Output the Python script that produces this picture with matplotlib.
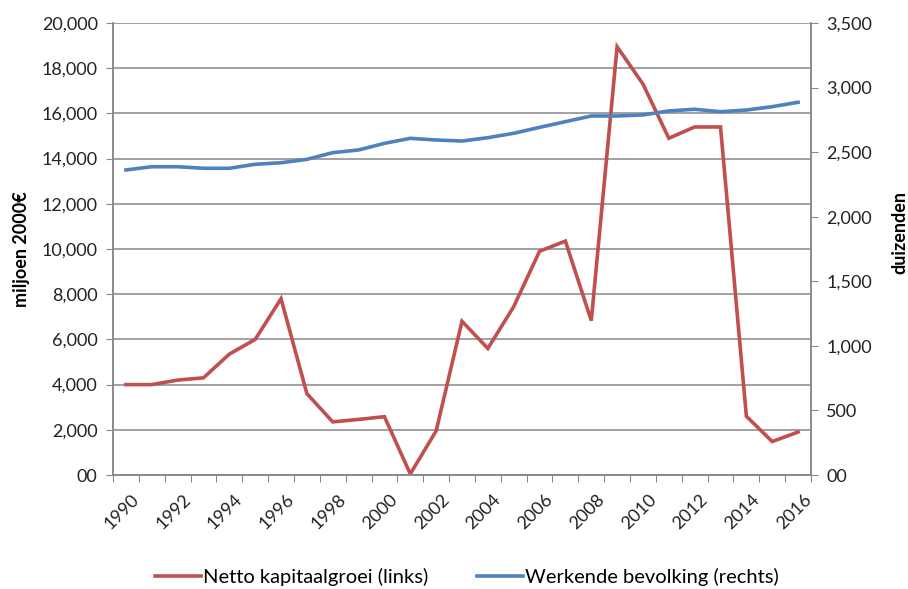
import matplotlib
matplotlib.use("Agg")
import matplotlib.pyplot as plt
import matplotlib.transforms as mtransforms
from matplotlib.ticker import FixedLocator, FuncFormatter

years = list(range(1990, 2017))
kapitaalgroei = [4000, 4000, 4200, 4300, 5350, 6000, 7800, 3600, 2350, 2460, 2580, 50,
                 1950, 6800, 5600, 7450, 9900, 10350, 6830, 18950, 17300, 14900, 15400,
                 15400, 2600, 1480, 1900]
bevolking = [2362, 2387, 2387, 2375, 2375, 2406, 2418, 2444, 2496, 2517, 2568, 2607,
             2594, 2586, 2612, 2646, 2692, 2736, 2780, 2780, 2788, 2819, 2832, 2813,
             2826, 2852, 2886]
left_ticks = list(range(0, 20001, 2000))
right_ticks = list(range(0, 3501, 500))

plt.rcParams['font.family'] = ['Lato', 'DejaVu Sans']
red = '#C0504D'
blue = '#4F81BD'
gray = '#888888'

fig = plt.figure(figsize=(9.08, 5.89), dpi=100)
ax = fig.add_axes([113/908, 1-475/589, (811-113)/908, (475-23)/589])
ax2 = ax.twinx()

x = list(range(len(years)))
l1, = ax.plot(x, kapitaalgroei, color=red, lw=2.6, solid_joinstyle='miter')
l2, = ax2.plot(x, bevolking, color=blue, lw=2.6)

ax.set_xlim(-0.5, len(years) - 0.5)
ax.set_ylim(0, 20000)
ax2.set_ylim(0, 3500)

def fmt(v, pos):
    return "00" if v == 0 else f"{int(v):,}"

ax.yaxis.set_major_locator(FixedLocator(left_ticks))
ax.yaxis.set_major_formatter(FuncFormatter(fmt))
ax2.yaxis.set_major_locator(FixedLocator(right_ticks))
ax2.yaxis.set_major_formatter(FuncFormatter(fmt))

ax.set_xticks([i - 0.5 for i in range(len(years) + 1)])
ax.set_xticklabels([])
ax.set_xticks([i for i, y in enumerate(years) if y % 2 == 0], minor=True)
ax.set_xticklabels([str(y) for y in years if y % 2 == 0], minor=True,
                   rotation=45, ha='right', va='top', rotation_mode='anchor')
ax.tick_params(axis='x', which='minor', length=0, pad=12, labelsize=13, labelcolor='#222222')
ax.tick_params(axis='x', which='major', length=5, color=gray, direction='out')
ax.tick_params(axis='y', length=5, color=gray, labelsize=13, labelcolor='#222222', pad=6)
ax2.tick_params(axis='y', length=5, color=gray, labelsize=13, labelcolor='#222222', pad=6)

offset = mtransforms.ScaledTranslation(5/100, 0, fig.dpi_scale_trans)
for lbl in ax.get_xticklabels(minor=True):
    lbl.set_transform(lbl.get_transform() + offset)

ax.yaxis.grid(True, color=gray, lw=1.1)
ax.set_axisbelow(True)

for a in (ax, ax2):
    a.spines['top'].set_visible(False)
    for s in ('left', 'right', 'bottom'):
        a.spines[s].set_color(gray)
        a.spines[s].set_linewidth(1.1)

ax.set_ylabel("miljoen 2000€", fontsize=13, fontweight='bold', labelpad=8)
ax2.set_ylabel("duizenden", fontsize=13, fontweight='bold')
ax2.yaxis.set_label_coords((891 - 113) / 698, (475 - 232) / 452)

fig.legend([l1, l2], ["Netto kapitaalgroei (links)", "Werkende bevolking (rechts)"],
           loc='center', bbox_to_anchor=(0.5 + 13/908, 1-577/589), ncol=2, frameon=False,
           fontsize=14.5, handlelength=2.3, handletextpad=0.1, columnspacing=2.4)

fig.savefig("out.png", dpi=100, facecolor='white')
